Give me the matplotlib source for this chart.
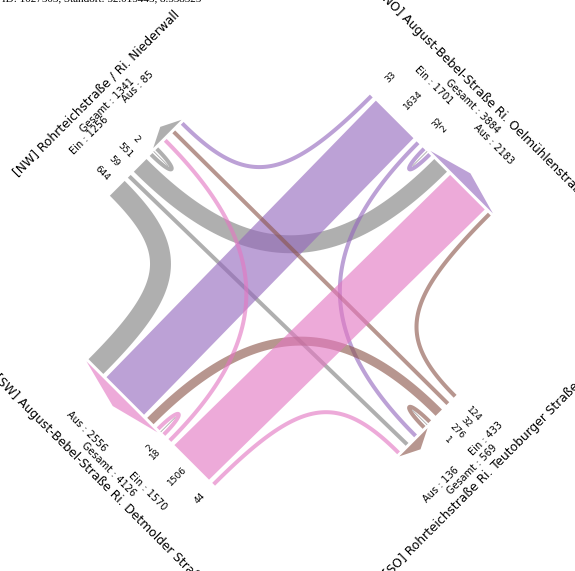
import numpy as np
import matplotlib.pyplot as plt
from matplotlib.patches import Polygon

# --- 数据 ---
arms = ['NW', 'NO', 'SO', 'SW']
street_names = ['[NW] Rohrteichstraße / Ri. Niederwall',
                '[NO] August-Bebel-Straße Ri. Oelmühlenstraße',
                '[SO] Rohrteichstraße Ri. Teutoburger Straße',
                '[SW] August-Bebel-Straße Ri. Detmolder Straße']
# Verkehrsströme: Zeile = von, Spalte = nach (NW, NO, SO, SW)
flows = np.array([[2, 551, 59, 644],
                  [33, 2, 32, 1634],
                  [32, 124, 1, 276],
                  [18, 1506, 44, 2]])
arm_colors = ['#7f7f7f', '#9467bd', '#8c564b', '#e377c2']
title = 'ID: 1027503, Standort: 52.015445, 8.558325'

# --- 几何参数 (像素) ---
cx, cy = 290.4, 288.1
half = [193.0, 193.0, 193.0, 193.0]
normals = np.array([[0, 1], [1, 0], [0, -1], [-1, 0]], float)
rights = np.array([[-n[1], n[0]] for n in normals])
side_shift = [0, 0, 0, 10]
SCALE, WMIN, GAP, LMIN, C0 = 0.0325, 4.0, 4.5, 40.0, 2.0
K_RIGHT, K_LEFT = 0.8, 0.7
ALPHA = 0.62

# 文字到边的距离
street_off = [82, 79, 78, 78]
ges_off = [66, 64, 64, 64]
ea_off = [57, 52, 52, 52]
flow_off = [21, 27, 26, 20]


def width(v):
    return max(v * SCALE, WMIN)


def to_img(pts):
    pts = np.atleast_2d(pts)
    X, Y = pts[:, 0], pts[:, 1]
    return np.column_stack([cx + (X - Y) / np.sqrt(2), cy - (X + Y) / np.sqrt(2)])


def side_pt(i, u, off=0.0):
    return normals[i] * (half[i] + off) + rights[i] * u


def stack(ws):
    ws = list(ws)
    g = GAP
    if sum(ws) + GAP * (len(ws) - 1) < LMIN:
        g = (LMIN - sum(ws)) / (len(ws) - 1)
    centers, pos = [], 0.0
    for w in ws:
        centers.append(pos + w / 2)
        pos += w + g
    return centers, pos - g


def bezier(p0, p1, p2, p3, n=80):
    t = np.linspace(0, 1, n)[:, None]
    pts = (1 - t) ** 3 * p0 + 3 * (1 - t) ** 2 * t * p1 + 3 * (1 - t) * t ** 2 * p2 + t ** 3 * p3
    der = 3 * (1 - t) ** 2 * (p1 - p0) + 6 * (1 - t) * t * (p2 - p1) + 3 * t ** 2 * (p3 - p2)
    return pts, der


# --- 布局: 每条边上的进出车道位置 ---
u_in = np.zeros((4, 4))
u_out = np.zeros((4, 4))
sec = {}
for i in range(4):
    in_to = [(i + k) % 4 for k in (0, 1, 2, 3)]
    out_from = [(i + k) % 4 for k in (0, 3, 2, 1)]
    c_in, L_in = stack(width(flows[i, j]) for j in in_to)
    c_out, L_out = stack(width(flows[k, i]) for k in out_from)
    b = side_shift[i]
    for j, c in zip(in_to, c_in):
        u_in[i, j] = b + C0 + c
    for k, c in zip(out_from, c_out):
        u_out[k, i] = b - C0 - c
    sec[i] = (b, L_in, L_out, in_to)

fig = plt.figure(figsize=(5.75, 5.71), dpi=100)
ax = fig.add_axes([0, 0, 1, 1])
ax.set_xlim(0, 575)
ax.set_ylim(571, 0)
ax.axis('off')

# --- 出口箭头 ---
for j in range(4):
    b, L_in, L_out, _ = sec[j]
    ua, ub = b - C0, b - C0 - L_out
    h = 8 + 0.05 * L_out
    tri = [side_pt(j, ua, 3), side_pt(j, (ua + ub) / 2, 3 + h), side_pt(j, ub, 3)]
    ax.add_patch(Polygon(to_img(np.array(tri)), closed=True, fc=arm_colors[j],
                         alpha=ALPHA, lw=0, zorder=1))

# --- 车流 ---
for i in range(4):
    for j in range(4):
        w = width(flows[i, j])
        col = arm_colors[i]
        p0 = side_pt(i, u_in[i, j])
        p3 = side_pt(j, u_out[i, j])
        if i == j:
            D = 33
            pts, _ = bezier(p0, p0 - normals[i] * D, p3 - normals[i] * D, p3)
            xy = to_img(pts)
            ax.plot(xy[:, 0], xy[:, 1], color=col, alpha=ALPHA, lw=w * 0.72,
                    solid_capstyle='butt', zorder=3)
            um = (u_in[i, j] + u_out[i, j]) / 2
            ln = to_img(np.array([side_pt(i, um, 0), side_pt(i, um, -20)]))
            ax.plot(ln[:, 0], ln[:, 1], color='#aaaaaa', lw=0.6, zorder=3)
            continue
        if (j - i) % 4 == 2:
            r = rights[i]
            poly = np.array([p0 + r * w / 2, p3 + r * w / 2, p3 - r * w / 2, p0 - r * w / 2])
        else:
            k = K_LEFT if (j - i) % 4 == 1 else K_RIGHT
            d0, d3 = -normals[i], -normals[j]
            s0 = np.dot(p3 - p0, d0)
            s3 = np.dot(p0 - p3, d3)
            pts, der = bezier(p0, p0 + d0 * k * s0, p3 + d3 * k * s3, p3)
            nrm = np.column_stack([-der[:, 1], der[:, 0]])
            nrm /= np.linalg.norm(nrm, axis=1)[:, None]
            poly = np.vstack([pts + nrm * w / 2, (pts - nrm * w / 2)[::-1]])
        ax.add_patch(Polygon(to_img(poly), closed=True, fc=col, alpha=ALPHA, lw=0, zorder=2))

# --- 文字 ---
rot_name = [45, -45, 45, -45]
rot_flow = [-45, 45, -45, 45]
for i in range(4):
    b, L_in, L_out, in_to = sec[i]
    L = L_in + L_out + 2 * C0
    a = 23 + 0.112 * L
    ein = flows[i].sum()
    aus = flows[:, i].sum()
    for txt, u, off, fs in [(street_names[i], 0, street_off[i], 8.8),
                            (f'Gesamt : {ein + aus}', 0, ges_off[i], 7),
                            (f'Ein : {ein}', a, ea_off[i], 7),
                            (f'Aus : {aus}', -a, ea_off[i], 7)]:
        x, y = to_img(side_pt(i, u, off))[0]
        ax.text(x, y, txt, rotation=rot_name[i], rotation_mode='anchor',
                ha='center', va='center', fontsize=fs, zorder=5)
    for j in in_to:
        x, y = to_img(side_pt(i, u_in[i, j], flow_off[i]))[0]
        ax.text(x, y, str(flows[i, j]), rotation=rot_flow[i], rotation_mode='anchor',
                ha='center', va='center', fontsize=6.5, zorder=5)

ax.text(2, -1, title, fontfamily='Liberation Serif', fontsize=8, ha='left', va='center')

fig.savefig('out.png', dpi=100)
